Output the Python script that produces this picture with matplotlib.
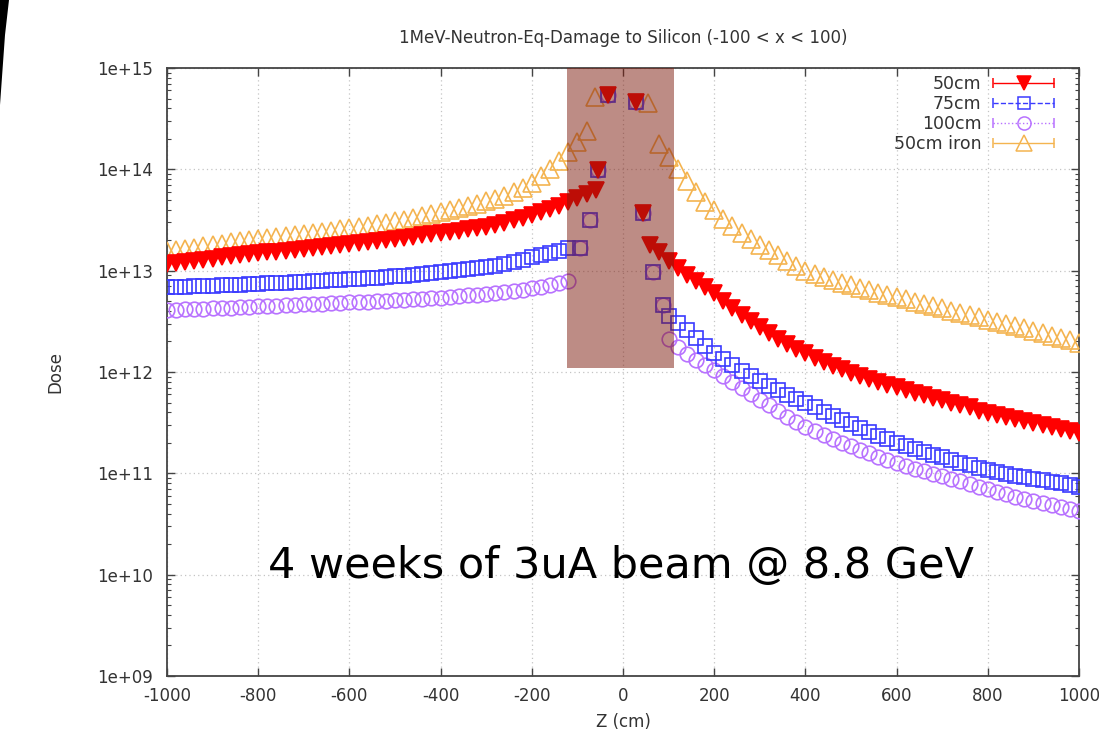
import numpy as np
import matplotlib
matplotlib.use('Agg')
import matplotlib.pyplot as plt
from matplotlib.patches import Rectangle, Polygon
from matplotlib.ticker import FixedLocator, LogLocator, NullFormatter, FuncFormatter
from matplotlib.container import ErrorbarContainer
from matplotlib.legend_handler import HandlerErrorbar

# ---------------- data (log10 of dose) ----------------
z_left_50 = np.arange(-1000, -59, 20)      # -1000 .. -60
z_left = np.arange(-1000, -119, 20)        # -1000 .. -120
z_left_iron = np.arange(-1000, -79, 20)    # -1000 .. -80
z_right_50 = np.arange(60, 1001, 20)       # 60 .. 1000
z_right = np.arange(100, 1001, 20)         # 100 .. 1000
z_right_iron = np.arange(80, 1001, 20)     # 80 .. 1000

log_50_left = [13.07, 13.08, 13.09, 13.10, 13.11, 13.12, 13.13, 13.14, 13.15, 13.16,
               13.17, 13.18, 13.18, 13.19, 13.20, 13.21, 13.22, 13.23, 13.24, 13.25,
               13.26, 13.27, 13.28, 13.29, 13.30, 13.31, 13.32, 13.33, 13.35, 13.36,
               13.37, 13.38, 13.39, 13.41, 13.42, 13.43, 13.45, 13.47, 13.50, 13.52,
               13.55, 13.58, 13.61, 13.64, 13.68, 13.72, 13.76, 13.80]
log_50_right = [13.25, 13.18, 13.10, 13.03, 12.96, 12.90, 12.84, 12.78, 12.70, 12.63,
                12.56, 12.50, 12.44, 12.38, 12.33, 12.28, 12.23, 12.19, 12.14, 12.10,
                12.06, 12.03, 11.99, 11.96, 11.93, 11.90, 11.87, 11.85, 11.82, 11.79,
                11.77, 11.74, 11.72, 11.69, 11.67, 11.65, 11.62, 11.60, 11.58, 11.56,
                11.54, 11.52, 11.50, 11.48, 11.46, 11.44, 11.42, 11.40]

log_75_left = [12.84, 12.84, 12.84, 12.85, 12.85, 12.85, 12.86, 12.86, 12.86, 12.87,
               12.87, 12.88, 12.88, 12.88, 12.89, 12.89, 12.90, 12.90, 12.91, 12.91,
               12.92, 12.92, 12.93, 12.93, 12.94, 12.95, 12.95, 12.96, 12.97, 12.98,
               12.99, 13.00, 13.01, 13.02, 13.03, 13.04, 13.05, 13.07, 13.09, 13.11,
               13.13, 13.15, 13.17, 13.19, 13.22]
log_75_right = [12.55, 12.48, 12.41, 12.34, 12.26, 12.19, 12.13, 12.07, 12.01, 11.96,
                11.91, 11.86, 11.82, 11.77, 11.73, 11.69, 11.65, 11.61, 11.57, 11.53,
                11.49, 11.45, 11.41, 11.37, 11.34, 11.30, 11.27, 11.24, 11.21, 11.18,
                11.16, 11.13, 11.10, 11.08, 11.05, 11.03, 11.01, 10.99, 10.97, 10.96,
                10.94, 10.93, 10.91, 10.90, 10.88, 10.87]

log_100_left = [12.61, 12.61, 12.62, 12.62, 12.62, 12.63, 12.63, 12.63, 12.64, 12.64,
                12.65, 12.65, 12.65, 12.66, 12.66, 12.67, 12.67, 12.67, 12.68, 12.68,
                12.69, 12.69, 12.69, 12.70, 12.70, 12.71, 12.71, 12.72, 12.72, 12.73,
                12.73, 12.74, 12.75, 12.76, 12.76, 12.77, 12.78, 12.79, 12.80, 12.81,
                12.83, 12.84, 12.86, 12.88, 12.90]
log_100_right = [12.33, 12.25, 12.18, 12.12, 12.07, 12.02, 11.96, 11.90, 11.84, 11.78,
                 11.72, 11.67, 11.62, 11.56, 11.51, 11.46, 11.42, 11.38, 11.34, 11.30,
                 11.27, 11.23, 11.20, 11.16, 11.13, 11.10, 11.07, 11.04, 11.02, 10.99,
                 10.97, 10.94, 10.92, 10.89, 10.87, 10.85, 10.82, 10.80, 10.77, 10.75,
                 10.73, 10.71, 10.69, 10.67, 10.65, 10.63]

log_iron_left = [13.19, 13.20, 13.21, 13.22, 13.24, 13.25, 13.26, 13.28, 13.29, 13.30,
                 13.31, 13.32, 13.33, 13.34, 13.35, 13.36, 13.37, 13.38, 13.39, 13.41,
                 13.42, 13.43, 13.44, 13.46, 13.47, 13.49, 13.50, 13.52, 13.54, 13.56,
                 13.58, 13.60, 13.62, 13.64, 13.66, 13.69, 13.71, 13.74, 13.78, 13.82,
                 13.87, 13.93, 14.00, 14.08, 14.17, 14.27, 14.38]
log_iron_right = [14.25, 14.12, 14.00, 13.88, 13.78, 13.68, 13.60, 13.51, 13.44, 13.37,
                  13.31, 13.25, 13.20, 13.15, 13.10, 13.05, 13.00, 12.97, 12.94, 12.91,
                  12.88, 12.86, 12.83, 12.81, 12.78, 12.76, 12.74, 12.72, 12.69, 12.67,
                  12.65, 12.63, 12.60, 12.58, 12.56, 12.54, 12.51, 12.49, 12.47, 12.45,
                  12.43, 12.40, 12.38, 12.36, 12.34, 12.32, 12.29]

# points inside the central region (|z| < 100)
z_core = [-55, -33, 28, 44]
log_core = [13.99, 14.73, 14.66, 13.57]
z_core_bp = [-95, -72, 65, 88]
log_core_bp = [13.22, 13.50, 12.99, 12.66]
z_core_iron = [-62, 55]
log_core_iron = [14.71, 14.65]

labels = ['50cm', '75cm', '100cm', '50cm iron']
y_ticks = [1e9, 1e10, 1e11, 1e12, 1e13, 1e14, 1e15]
x_ticks = [-1000, -800, -600, -400, -200, 0, 200, 400, 600, 800, 1000]

series = {
    '50cm': (np.concatenate([z_left_50, z_core, z_right_50]),
             np.concatenate([log_50_left, log_core, log_50_right])),
    '75cm': (np.concatenate([z_left, z_core_bp, z_core, z_right]),
             np.concatenate([log_75_left, log_core_bp, log_core, log_75_right])),
    '100cm': (np.concatenate([z_left, z_core_bp, z_core, z_right]),
              np.concatenate([log_100_left, log_core_bp, log_core, log_100_right])),
    '50cm iron': (np.concatenate([z_left_iron, z_core_iron, z_right_iron]),
                  np.concatenate([log_iron_left, log_core_iron, log_iron_right])),
}

styles = {
    '50cm': dict(marker='v', color='#ff0000', mfc='#ff0000', ms=11.5, ls='-'),
    '75cm': dict(marker='s', color='#3a3aff', mfc='none', ms=10, ls='--'),
    '100cm': dict(marker='o', color='#b872ff', mfc='none', ms=10.5, ls=':'),
    '50cm iron': dict(marker='^', color='#f4b450', mfc='none', ms=12.5, ls='-'),
}

# ---------------- figure ----------------
W, H = 1099, 737
fig = plt.figure(figsize=(W / 100, H / 100), dpi=100)
fig.patch.set_facecolor('white')
ax = fig.add_axes([167 / W, 1 - 676 / H, (1079 - 167) / W, (676 - 68) / H])
ax.set_yscale('log')
ax.set_xlim(-1000, 1000)
ax.set_ylim(1e9, 1e15)

draw_order = ['50cm iron', '100cm', '75cm', '50cm']
for i, name in enumerate(draw_order):
    z, lg = series[name]
    st = styles[name]
    ax.plot(z, 10 ** np.asarray(lg), ls='none', marker=st['marker'], color=st['color'],
            mfc=st['mfc'], mec=st['color'], ms=st['ms'], mew=1.2, zorder=3 + i)

# legend proxies (gnuplot-style errorbar samples)
handles = []
for name in labels:
    st = styles[name]
    h = ax.errorbar([np.nan], [np.nan], xerr=[[1.0], [1.0]], fmt=st['marker'],
                    color=st['color'], mfc=st['mfc'], mec=st['color'], ms=st['ms'] * 0.9,
                    mew=1.1, elinewidth=1.0, capsize=3.5, label=name)
    h[2][0].set_linestyle(st['ls'])
    handles.append(h)

leg = ax.legend(handles, labels, loc='upper right',
                bbox_to_anchor=((1056 - 167) / 912, 1 - (75 - 68) / 608),
                frameon=False, markerfirst=False, fontsize=12.5,
                handlelength=3.7, handletextpad=0.6, labelspacing=0.12,
                borderaxespad=0, borderpad=0,
                handler_map={ErrorbarContainer: HandlerErrorbar(xerr_size=1.75, numpoints=1)})
leg.set_zorder(20)
for t in leg.get_texts():
    t.set_color('#333333')

# central shaded block
ax.add_patch(Rectangle((-123, 1.1e12), 235, 1e15 - 1.1e12, facecolor='#7d1a0c',
                       edgecolor='none', alpha=0.5, zorder=10))

# axes styling
ax.xaxis.set_major_locator(FixedLocator(x_ticks))
ax.xaxis.set_major_formatter(FuncFormatter(lambda v, p: f'{int(v)}'))
ax.yaxis.set_major_locator(FixedLocator(y_ticks))
ax.yaxis.set_major_formatter(FuncFormatter(lambda v, p: f'{v:.0e}'))
ax.yaxis.set_minor_locator(LogLocator(base=10, subs=np.arange(2, 10)))
ax.yaxis.set_minor_formatter(NullFormatter())
ax.tick_params(which='both', direction='in', top=True, right=True, colors='#444444',
               labelcolor='#333333', labelsize=12)
ax.tick_params(which='major', length=6, width=1.0)
ax.tick_params(which='minor', length=3, width=0.8)
ax.tick_params(axis='y', pad=10)
ax.tick_params(axis='x', pad=8)
for sp in ax.spines.values():
    sp.set_color('#444444')
    sp.set_linewidth(1.3)
ax.set_axisbelow(True)
ax.grid(True, which='major', color='#c4c4c4', ls=(0, (1, 2.5)), lw=0.9)

fig.text(623 / W, 1 - 38 / H, '1MeV-Neutron-Eq-Damage to Silicon (-100 < x < 100)',
         ha='center', va='center', fontsize=12, color='#333333')
fig.text(55 / W, 1 - 372 / H, 'Dose', rotation=90, ha='center', va='center',
         fontsize=12, color='#333333')
fig.text(623 / W, 1 - 722 / H, 'Z (cm)', ha='center', va='center', fontsize=12,
         color='#333333')

ax.text(-778, 9.2e9, '4 weeks of 3uA beam @ 8.8 GeV', fontsize=31, ha='left',
        va='baseline', color='black', zorder=15)

# dark stroke at the top-left corner of the slide
pts = [(0, 0), (9, 0), (5, 35), (0, 105)]
fig.add_artist(Polygon([(x / W, 1 - y / H) for x, y in pts], closed=True,
                       transform=fig.transFigure, facecolor='black', edgecolor='none'))

fig.savefig('out.png', dpi=100)
